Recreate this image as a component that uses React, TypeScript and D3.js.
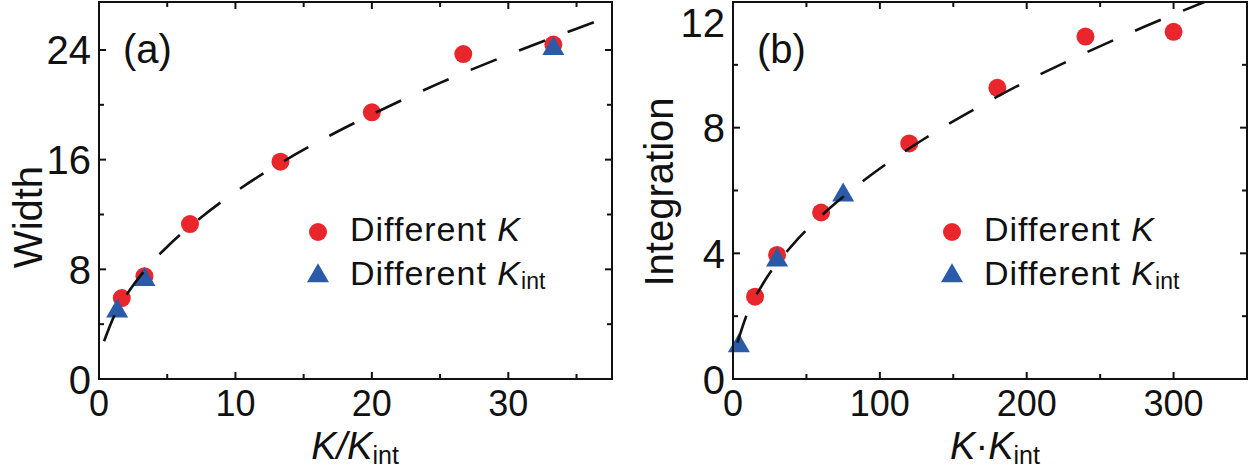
import React from 'react';
import * as d3 from 'd3';

const FONT = "'Liberation Sans', Arial, Helvetica, sans-serif";
const RED = '#e8262b';
const BLUE = '#2a5aa8';

// ---------- Panel (a): Width vs K/Kint ----------
const aRedX = [1.67, 3.33, 6.67, 13.3, 20, 26.7, 33.3];
const aRedY = [5.9, 7.5, 11.3, 15.85, 19.45, 23.7, 24.4];
const aBlueX = [1.33, 3.33, 33.3];
const aBlueY = [4.95, 7.25, 24.1];
const aFitX = [0.37, 1, 2, 3.33, 5, 7.5, 10, 13.3, 17, 20, 25, 30, 35, 37.6];
const aFitY = [2.75, 4.35, 6.1, 7.9, 9.65, 11.8, 13.65, 15.75, 17.8, 19.3, 21.6, 23.65, 25.55, 26.5];
const aXTicks = [0, 10, 20, 30];
const aXMinor = [5, 15, 25, 35];
const aYTicks = [0, 8, 16, 24];
const aYMinor = [4, 12, 20];

// ---------- Panel (b): Integration vs K·Kint ----------
const bRedX = [15, 30, 60, 120, 180, 240, 300];
const bRedY = [2.62, 3.95, 5.3, 7.5, 9.27, 10.9, 11.05];
const bBlueX = [4, 30, 75];
const bBlueY = [1.05, 3.78, 5.85];
const bFitX = [3, 10, 20, 40, 60, 80, 100, 130, 160, 200, 240, 280, 321];
const bFitY = [1.16, 2.12, 3.0, 4.24, 5.19, 5.99, 6.7, 7.64, 8.47, 9.48, 10.38, 11.21, 12.0];
const bXTicks = [0, 100, 200, 300];
const bXMinor = [50, 150, 250];
const bYTicks = [0, 4, 8, 12];
const bYMinor = [2, 6, 10];

const legendLabels = ['Different ', 'Different '];

function tri(cx: number, cy: number, base = 22, h = 19) {
  return `M${cx},${cy - (2 * h) / 3}L${cx + base / 2},${cy + h / 3}L${cx - base / 2},${cy + h / 3}Z`;
}

type PanelProps = {
  left: number; right: number; top: number; bottom: number;
  xDomain: [number, number]; yDomain: [number, number];
  redX: number[]; redY: number[]; blueX: number[]; blueY: number[];
  fitX: number[]; fitY: number[];
  xTicks: number[]; xMinor: number[]; yTicks: number[]; yMinor: number[];
  tag: string; yTitle: string; yTitleX: number; yTitleY: number;
  xTitle: React.ReactNode; xTitleX: number;
};

function Panel(p: PanelProps) {
  const x = d3.scaleLinear().domain(p.xDomain).range([p.left, p.right]);
  const y = d3.scaleLinear().domain(p.yDomain).range([p.bottom, p.top]);
  const line = d3.line<number>()
    .x((_, i) => x(p.fitX[i]))
    .y((d) => y(d))
    .curve(d3.curveMonotoneX);
  const major = 7;
  const minor = 5;
  const tickLines: React.ReactNode[] = [];
  const addX = (v: number, len: number, k: string) => {
    tickLines.push(<line key={'xb' + k} x1={x(v)} x2={x(v)} y1={p.bottom} y2={p.bottom - len} />);
    tickLines.push(<line key={'xt' + k} x1={x(v)} x2={x(v)} y1={p.top} y2={p.top + len} />);
  };
  const addY = (v: number, len: number, k: string) => {
    tickLines.push(<line key={'yl' + k} x1={p.left} x2={p.left + len} y1={y(v)} y2={y(v)} />);
    tickLines.push(<line key={'yr' + k} x1={p.right} x2={p.right - len} y1={y(v)} y2={y(v)} />);
  };
  p.xTicks.forEach((v) => addX(v, major, 'M' + v));
  p.xMinor.forEach((v) => addX(v, minor, 'm' + v));
  p.yTicks.forEach((v) => addY(v, major, 'M' + v));
  p.yMinor.forEach((v) => addY(v, minor, 'm' + v));

  const legX = p.left + 219;
  const textX = p.left + 251;
  return (
    <g fontFamily={FONT} fill="#111">
      {/* markers */}
      {p.redX.map((v, i) => (
        <circle key={'r' + i} cx={x(v)} cy={y(p.redY[i])} r={9} fill={RED} />
      ))}
      {p.blueX.map((v, i) => (
        <path key={'b' + i} d={tri(x(v), y(p.blueY[i]))} fill={BLUE} />
      ))}
      {/* fit line */}
      <path d={line(p.fitY) || ''} fill="none" stroke="#111" strokeWidth={2.6} strokeDasharray="28 24" />
      {/* frame */}
      <rect x={p.left} y={p.top} width={p.right - p.left} height={p.bottom - p.top} fill="none" stroke="#111" strokeWidth={2} />
      <g stroke="#111" strokeWidth={2}>{tickLines}</g>
      {/* tick labels */}
      {p.xTicks.map((v) => (
        <text key={'xl' + v} x={x(v)} y={416} fontSize={36} textAnchor="middle">{v}</text>
      ))}
      {p.yTicks.map((v) => (
        <text key={'yl' + v} x={p.left - 8} y={Math.max(y(v) + 14.5, 37)} fontSize={40} textAnchor="end">{v}</text>
      ))}
      {/* axis titles */}
      <text x={p.xTitleX} y={459} fontSize={38} textAnchor="middle">{p.xTitle}</text>
      <text transform={`translate(${p.yTitleX},${p.yTitleY}) rotate(-90)`} fontSize={40} textAnchor="middle">{p.yTitle}</text>
      {/* panel tag */}
      <text x={p.left + 24} y={63} fontSize={40}>{p.tag}</text>
      {/* legend */}
      <circle cx={legX} cy={232} r={9} fill={RED} />
      <path d={tri(legX, 276)} fill={BLUE} />
      <text x={textX} y={241} fontSize={34} letterSpacing={1}>
        {legendLabels[0]}<tspan fontStyle="italic">K</tspan>
      </text>
      <text x={textX} y={285} fontSize={34} letterSpacing={1}>
        {legendLabels[1]}<tspan fontStyle="italic">K</tspan>
        <tspan fontSize={23} dy={4} letterSpacing={0}>int</tspan>
      </text>
    </g>
  );
}

export default function App() {
  return (
    <svg width={1253} height={471} style={{ position: 'absolute', left: 0, top: 0, background: '#fff' }}>
      <rect x={0} y={0} width={1253} height={471} fill="#fff" />
      <Panel
        left={99} right={612} top={2} bottom={379}
        xDomain={[0, 37.6]} yDomain={[0, 27.5]}
        redX={aRedX} redY={aRedY} blueX={aBlueX} blueY={aBlueY}
        fitX={aFitX} fitY={aFitY}
        xTicks={aXTicks} xMinor={aXMinor} yTicks={aYTicks} yMinor={aYMinor}
        tag="(a)" yTitle="Width" yTitleX={42} yTitleY={217}
        xTitleX={355}
        xTitle={<>
          <tspan fontStyle="italic">K</tspan><tspan fontStyle="italic">/</tspan><tspan fontStyle="italic">K</tspan>
          <tspan fontSize={25} dy={5}>int</tspan>
        </>}
      />
      <Panel
        left={733} right={1247} top={2} bottom={379}
        xDomain={[0, 350]} yDomain={[0, 12]}
        redX={bRedX} redY={bRedY} blueX={bBlueX} blueY={bBlueY}
        fitX={bFitX} fitY={bFitY}
        xTicks={bXTicks} xMinor={bXMinor} yTicks={bYTicks} yMinor={bYMinor}
        tag="(b)" yTitle="Integration" yTitleX={673} yTitleY={192}
        xTitleX={995}
        xTitle={<>
          <tspan fontStyle="italic">K</tspan><tspan>·</tspan><tspan fontStyle="italic">K</tspan>
          <tspan fontSize={25} dy={5}>int</tspan>
        </>}
      />
    </svg>
  );
}
